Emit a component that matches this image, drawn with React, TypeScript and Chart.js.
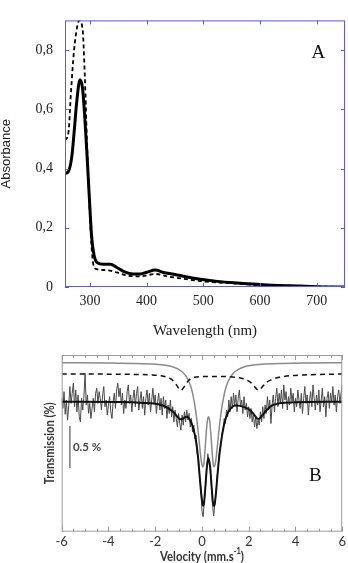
import React, { useEffect, useRef } from "react";
import { Chart, registerables } from "chart.js";
Chart.register(...registerables);

// ---------- Panel A : absorbance spectra ----------
const WAVE_SOLID = [256, 262, 268, 272, 276.7, 282.5, 287, 291, 295, 299, 303, 307, 313, 324, 336, 347.5, 359, 377, 389, 400.6, 415, 430, 448, 465, 495, 524.5, 554, 613, 672, 730, 750];
const ABS_SOLID = [0.383, 0.39, 0.44, 0.52, 0.625, 0.70, 0.67, 0.57, 0.44, 0.30, 0.17, 0.11, 0.082, 0.077, 0.077, 0.066, 0.053, 0.044, 0.044, 0.050, 0.057, 0.049, 0.043, 0.036, 0.026, 0.019, 0.014, 0.0065, 0.003, 0.0, 0.0];
const WAVE_DASH = [256, 262, 266.6, 272, 277.6, 281, 287, 291, 295, 299, 302.7, 306, 312, 329, 347.5, 365, 389, 415, 436, 465, 495, 554, 613, 750];
const ABS_DASH = [0.496, 0.52, 0.66, 0.80, 0.88, 0.90, 0.87, 0.71, 0.475, 0.28, 0.14, 0.077, 0.06, 0.057, 0.049, 0.039, 0.036, 0.044, 0.036, 0.028, 0.020, 0.012, 0.005, 0.0];
const X_TICKS_A = [300, 400, 500, 600, 700];
const Y_TICKS_A = [0, 0.2, 0.4, 0.6, 0.8];

// ---------- Panel B : Mössbauer spectrum (transmission change, %) ----------
const V_START = -6;
const V_STEP = 0.05;
const DATA_T = [
  0.05, -0.08, 0.12, -0.15, 0.02, -0.22, -0.05, 0.18, -0.02, 0.10,
  0.22, -0.06, 0.14, -0.12, 0.08, -0.18, -0.24, 0.04, -0.10, 0.06,
  0.34, -0.04, 0.08, -0.14, -0.02, -0.20, -0.08, 0.04, -0.12, 0.10,
  0.16, -0.02, 0.12, 0.04, -0.10, 0.08, 0.18, -0.06, 0.02, -0.16,
  -0.04, 0.06, -0.12, -0.20, 0.00, 0.10, -0.08, 0.14, 0.22, 0.06,
  0.16, -0.04, 0.10, -0.14, 0.02, -0.08, 0.12, 0.20, -0.02, 0.08,
  -0.12, 0.04, 0.14, -0.06, 0.10, 0.18, -0.10, 0.02, 0.12, -0.08,
  0.06, -0.16, 0.04, 0.14, -0.04, 0.10, -0.12, 0.02, 0.16, -0.02,
  0.08, -0.14, 0.00, 0.10, -0.10, 0.04, -0.16, 0.06, -0.08, 0.02,
  -0.20, -0.04, -0.14, 0.02, -0.18, -0.06, -0.24, -0.10, -0.20, -0.30,
  -0.14, -0.26, -0.34, -0.16, -0.28, -0.12, -0.24, -0.10, -0.22, -0.14,
  -0.30, -0.20, -0.36, -0.28, -0.44, -0.40, -0.62, -0.66, -0.90, -1.02,
  -1.30, -1.37, -1.18, -1.04, -0.80, -0.62, -0.72, -0.80, -0.98, -1.22,
  -1.36, -1.22, -1.10, -0.88, -0.76, -0.58, -0.54, -0.38, -0.34, -0.20,
  -0.26, -0.10, -0.18, 0.02, -0.12, 0.06, -0.08, 0.10, -0.04, 0.08,
  -0.12, 0.04, 0.14, -0.06, 0.02, -0.14, 0.06, -0.10, -0.02, -0.18,
  -0.06, -0.20, -0.08, -0.24, -0.14, -0.30, -0.18, -0.32, -0.22, -0.28,
  -0.12, -0.24, -0.06, -0.20, -0.04, -0.14, 0.06, -0.10, 0.02, -0.26,
  -0.04, 0.08, -0.12, 0.04, 0.16, -0.06, 0.10, -0.02, 0.14, -0.08,
  0.20, 0.02, 0.12, -0.10, 0.06, -0.04, 0.16, 0.00, 0.10, -0.12,
  0.04, -0.06, 0.14, 0.02, -0.08, 0.10, -0.14, 0.04, 0.18, -0.02,
  0.08, -0.16, 0.02, 0.12, -0.06, 0.20, 0.04, -0.10, 0.08, -0.04,
  0.14, -0.12, 0.02, 0.16, -0.06, 0.06, -0.18, 0.04, 0.12, -0.08,
  0.10, 0.00, 0.18, -0.04, 0.08, -0.12, 0.06, 0.14, -0.02, 0.10,
  0.20,
];
const FIT_V = [-6, -3.5, -2.5, -2, -1.68, -1.4, -1.2, -1.05, -0.92, -0.8, -0.69, -0.58, -0.47, -0.36, -0.26, -0.18, -0.1, -0.03, 0.02, 0.05, 0.09, 0.15, 0.21, 0.28, 0.35, 0.41, 0.47, 0.51, 0.55, 0.61, 0.68, 0.76, 0.85, 0.94, 1.05, 1.15, 1.3, 1.45, 1.65, 1.86, 2.05, 2.22, 2.36, 2.42, 2.5, 2.62, 2.8, 3.0, 3.3, 4, 6];
const FIT_T = [0, -0.005, -0.015, -0.025, -0.045, -0.085, -0.13, -0.18, -0.21, -0.2, -0.18, -0.19, -0.24, -0.33, -0.46, -0.63, -0.88, -1.1, -1.21, -1.24, -1.2, -1.0, -0.78, -0.67, -0.78, -1.0, -1.2, -1.24, -1.21, -1.05, -0.82, -0.6, -0.42, -0.28, -0.17, -0.11, -0.06, -0.045, -0.05, -0.07, -0.1, -0.15, -0.2, -0.205, -0.19, -0.15, -0.09, -0.045, -0.02, -0.008, 0];
const COMP1_V = [-6, -4, -3, -2, -1.5, -1.2, -1.0, -0.8, -0.65, -0.5, -0.4, -0.3, -0.2, -0.12, -0.05, 0.0, 0.04, 0.08, 0.13, 0.18, 0.23, 0.28, 0.33, 0.38, 0.43, 0.48, 0.52, 0.56, 0.61, 0.68, 0.76, 0.86, 0.96, 1.06, 1.21, 1.36, 1.56, 1.76, 2.06, 2.56, 3.5, 4.5, 6];
const COMP1_T = [0.464, 0.46, 0.455, 0.445, 0.43, 0.41, 0.385, 0.345, 0.29, 0.20, 0.10, -0.05, -0.26, -0.47, -0.66, -0.75, -0.775, -0.74, -0.58, -0.38, -0.23, -0.18, -0.23, -0.38, -0.58, -0.74, -0.775, -0.75, -0.66, -0.47, -0.26, -0.05, 0.10, 0.20, 0.29, 0.345, 0.385, 0.41, 0.43, 0.445, 0.455, 0.46, 0.464];
const COMP2_V = [-6, -3, -2, -1.6, -1.35, -1.2, -1.08, -0.97, -0.9, -0.83, -0.72, -0.6, -0.45, -0.2, 0.3, 0.8, 1.3, 1.6, 1.85, 2.05, 2.22, 2.34, 2.42, 2.5, 2.62, 2.79, 2.99, 3.3, 3.8, 4.5, 6];
const COMP2_T = [0.33, 0.325, 0.315, 0.30, 0.275, 0.24, 0.195, 0.15, 0.135, 0.15, 0.195, 0.245, 0.28, 0.295, 0.30, 0.30, 0.295, 0.285, 0.265, 0.235, 0.19, 0.15, 0.135, 0.15, 0.19, 0.235, 0.265, 0.29, 0.31, 0.32, 0.33];
const X_TICKS_B = [-6, -4, -2, 0, 2, 4, 6];
const SCALE_BAR = { v: -5.65, from: -0.29, to: -0.79, label: "0.5 %" };

const BLUE = "#5a5ad2";
const FRAME_B = "#9a9a9a";

const pts = (xs: number[], ys: number[]) => xs.map((x, i) => ({ x, y: ys[i] }));

// draws a list of [text, font, dy] parts centred at (cx, cy), squeezed to targetWidth
function drawCondensed(ctx: any, parts: [string, string, number][], cx: number, cy: number, targetWidth: number) {
  let total = 0;
  const widths = parts.map(([t, f]) => { ctx.font = f; const w = ctx.measureText(t).width; total += w; return w; });
  const k = Math.min(1, targetWidth / total);
  ctx.save();
  ctx.translate(cx, cy);
  ctx.scale(k, 1);
  ctx.textAlign = "left";
  ctx.textBaseline = "middle";
  let sx = -total / 2;
  parts.forEach(([t, f, dy], i) => { ctx.font = f; ctx.fillText(t, sx, dy); sx += widths[i]; });
  ctx.restore();
}

const plotA = {
  id: "plotA",
  afterDatasetsDraw(chart: any) {
    const { ctx, chartArea: a, scales } = chart;
    const x = scales.x, y = scales.y;
    ctx.save();
    ctx.strokeStyle = BLUE;
    ctx.lineWidth = 1;
    ctx.strokeRect(a.left + 0.5, a.top + 0.5, a.right - a.left - 1, a.bottom - a.top - 1);
    ctx.beginPath();
    for (const t of X_TICKS_A) {
      const px = Math.round(x.getPixelForValue(t)) + 0.5;
      ctx.moveTo(px, a.bottom); ctx.lineTo(px, a.bottom - 4);
      ctx.moveTo(px, a.top); ctx.lineTo(px, a.top + 4);
    }
    for (const t of Y_TICKS_A) {
      const py = Math.round(y.getPixelForValue(t)) + 0.5;
      ctx.moveTo(a.left, py); ctx.lineTo(a.left + 4, py);
      ctx.moveTo(a.right, py); ctx.lineTo(a.right - 4, py);
    }
    ctx.stroke();
    ctx.fillStyle = "#111";
    ctx.font = '19px "Liberation Serif"';
    ctx.textAlign = "center";
    ctx.textBaseline = "middle";
    ctx.fillText("A", x.getPixelForValue(703), y.getPixelForValue(0.79));
    ctx.restore();
  },
};

const plotB = {
  id: "plotB",
  afterDatasetsDraw(chart: any) {
    const { ctx, chartArea: a, scales } = chart;
    const x = scales.x, y = scales.y;
    ctx.save();
    ctx.strokeStyle = FRAME_B;
    ctx.lineWidth = 1;
    ctx.strokeRect(a.left + 0.5, a.top + 0.5, a.right - a.left - 1, a.bottom - a.top - 1);
    ctx.beginPath();
    for (let k = -12; k <= 12; k++) {
      const v = k / 2;
      const len = k % 4 === 0 ? 5 : 3;
      const px = Math.round(x.getPixelForValue(v)) + 0.5;
      ctx.moveTo(px, a.bottom); ctx.lineTo(px, a.bottom - len);
      ctx.moveTo(px, a.top); ctx.lineTo(px, a.top + len);
    }
    ctx.stroke();
    // scale bar
    ctx.strokeStyle = "#777";
    ctx.lineWidth = 1.5;
    ctx.beginPath();
    const bx = x.getPixelForValue(SCALE_BAR.v);
    ctx.moveTo(bx, y.getPixelForValue(SCALE_BAR.from));
    ctx.lineTo(bx, y.getPixelForValue(SCALE_BAR.to));
    ctx.stroke();
    ctx.fillStyle = "#444";
    ctx.font = 'bold 11.5px Lato';
    ctx.textAlign = "left";
    ctx.textBaseline = "middle";
    ctx.fillText(SCALE_BAR.label, bx + 3, y.getPixelForValue((SCALE_BAR.from + SCALE_BAR.to) / 2));
    // panel letter
    ctx.fillStyle = "#111";
    ctx.font = '19px "Liberation Serif"';
    ctx.textAlign = "center";
    ctx.fillText("B", x.getPixelForValue(4.85), y.getPixelForValue(-0.885));
    // y title (rotated)
    ctx.fillStyle = "#333";
    ctx.save();
    ctx.translate(50, (a.top + a.bottom) / 2);
    ctx.rotate(-Math.PI / 2);
    drawCondensed(ctx, [["Transmission (%)", "bold 12.5px Lato", 0]], 0, 0, 82);
    ctx.restore();
    // x title with superscript
    drawCondensed(
      ctx,
      [["Velocity (mm.s", "bold 13px Lato", 0], ["-1", "bold 8.5px Lato", -5], [")", "bold 13px Lato", 0]],
      (a.left + a.right) / 2,
      216.5,
      84
    );
    ctx.restore();
  },
};

function ChartA() {
  const ref = useRef<HTMLCanvasElement>(null);
  useEffect(() => {
    const chart = new Chart(ref.current as HTMLCanvasElement, {
      type: "line",
      data: {
        datasets: [
          {
            data: pts(WAVE_SOLID, ABS_SOLID),
            borderColor: "#000",
            borderWidth: 3,
            pointRadius: 0,
            cubicInterpolationMode: "monotone",
            order: 1,
          },
          {
            data: pts(WAVE_DASH, ABS_DASH),
            borderColor: "#000",
            borderWidth: 1.8,
            borderDash: [4, 3],
            pointRadius: 0,
            cubicInterpolationMode: "monotone",
            order: 2,
          },
        ],
      },
      options: {
        animation: false,
        responsive: false,
        events: [],
        layout: { padding: { top: 8, right: 3, left: 0, bottom: 0 } },
        plugins: { legend: { display: false }, tooltip: { enabled: false } },
        scales: {
          x: {
            type: "linear",
            min: 256,
            max: 750,
            afterBuildTicks: (s: any) => { s.ticks = X_TICKS_A.map((v) => ({ value: v })); },
            afterFit: (s: any) => { s.height = 53; },
            grid: { display: false, drawTicks: false },
            border: { display: false },
            ticks: { padding: 6, maxRotation: 0, autoSkip: false, color: "#222", font: { family: "Liberation Serif", size: 14 } },
            title: { display: true, text: "Wavelength (nm)", color: "#222", font: { family: "Liberation Serif", size: 15 }, padding: { top: 0, bottom: 0 } },
          },
          y: {
            type: "linear",
            min: 0,
            max: 0.9,
            afterBuildTicks: (s: any) => { s.ticks = Y_TICKS_A.map((v) => ({ value: v })); },
            afterFit: (s: any) => { s.width = 65; },
            grid: { display: false, drawTicks: false },
            border: { display: false },
            ticks: {
              padding: 12,
              color: "#222",
              font: { family: "Liberation Serif", size: 14 },
              callback: (v: any) => (v === 0 ? "0" : Number(v).toFixed(1).replace(".", ",")),
            },
            title: { display: true, text: "Absorbance", color: "#222", font: { family: "Liberation Sans", size: 13, lineHeight: 1 }, padding: { top: 0, bottom: 0 } },
          },
        },
      },
      plugins: [plotA],
    } as any);
    return () => chart.destroy();
  }, []);
  return <canvas ref={ref} width={348} height={340} style={{ display: "block", width: 348, height: 340 }} />;
}

function ChartB() {
  const ref = useRef<HTMLCanvasElement>(null);
  useEffect(() => {
    const dataPts = DATA_T.map((t, i) => ({ x: V_START + i * V_STEP, y: t }));
    const chart = new Chart(ref.current as HTMLCanvasElement, {
      type: "line",
      data: {
        datasets: [
          { data: dataPts, borderColor: "#4a4a4a", borderWidth: 1, pointRadius: 0, order: 4 },
          { data: pts(COMP1_V, COMP1_T), borderColor: "#8a8a8a", borderWidth: 1.5, pointRadius: 0, cubicInterpolationMode: "monotone", order: 3 },
          { data: pts(COMP2_V, COMP2_T), borderColor: "#111", borderWidth: 1.5, borderDash: [5, 4], pointRadius: 0, cubicInterpolationMode: "monotone", order: 2 },
          { data: pts(FIT_V, FIT_T), borderColor: "#111", borderWidth: 2, pointRadius: 0, cubicInterpolationMode: "monotone", order: 1 },
        ],
      },
      options: {
        animation: false,
        responsive: false,
        events: [],
        layout: { padding: { top: 15, right: 4, left: 61.7, bottom: 0 } },
        plugins: { legend: { display: false }, tooltip: { enabled: false } },
        scales: {
          x: {
            type: "linear",
            min: -6,
            max: 6,
            afterBuildTicks: (s: any) => { s.ticks = X_TICKS_B.map((v) => ({ value: v })); },
            afterFit: (s: any) => { s.height = 31.3; },
            grid: { display: false, drawTicks: false },
            border: { display: false },
            ticks: { padding: 2, maxRotation: 0, autoSkip: false, color: "#333", font: { family: "Lato", size: 13 } },
          },
          y: { type: "linear", min: -1.548, max: 0.556, display: false },
        },
      },
      plugins: [plotB],
    } as any);
    return () => chart.destroy();
  }, []);
  return <canvas ref={ref} width={348} height={223} style={{ display: "block", width: 348, height: 223 }} />;
}

export default function App() {
  return (
    <div style={{ position: "absolute", left: 0, top: 0, width: 348, height: 563, background: "#fff" }}>
      <ChartA />
      <ChartB />
    </div>
  );
}
